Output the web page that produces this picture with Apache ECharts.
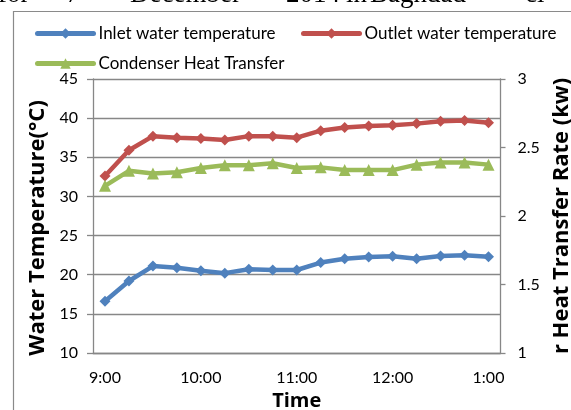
<!DOCTYPE html>
<html>
<head>
<meta charset="utf-8">
<script src="https://cdn.jsdelivr.net/npm/echarts@6/dist/echarts.min.js"></script>
<style>
  html, body { margin: 0; padding: 0; background: #fff; }
  #chart { width: 571px; height: 410px; }
</style>
</head>
<body>
<div id="chart"></div>
<script>
// Sampling times (15-minute steps, 9:00 to 1:00)
const times = ['9:00', '9:15', '9:30', '9:45', '10:00', '10:15', '10:30', '10:45',
  '11:00', '11:15', '11:30', '11:45', '12:00', '12:15', '12:30', '12:45', '1:00'];

// Water temperatures, °C (left axis)
const inletTemp = [16.6, 19.2, 21.1, 20.9, 20.5, 20.2, 20.7, 20.6, 20.6,
  21.55, 22.05, 22.25, 22.35, 22.05, 22.4, 22.5, 22.3];
const outletTemp = [32.6, 35.9, 37.7, 37.5, 37.4, 37.2, 37.7, 37.7, 37.5,
  38.4, 38.8, 39.0, 39.1, 39.3, 39.6, 39.7, 39.4];

// Condenser heat transfer rate, kW (right axis)
const heatTransfer = [2.22, 2.33, 2.31, 2.32, 2.35, 2.37, 2.37, 2.385, 2.35,
  2.355, 2.335, 2.335, 2.335, 2.375, 2.39, 2.39, 2.375];

// Axis ranges
const tempAxis = { min: 10, max: 45, step: 5 };
const rateAxis = { min: 1, max: 3, step: 0.5 };

// Caption words from the text above the figure
const captionWords = [
  ['for', -2], ['7', 66], ['December', 130], ['2014', 286],
  ['in', 346], ['Baghdad', 370], ['ci', 525]
];

const FONT = 'Lato';
const TITLE_FONT = 'Open Sans';
const GRID_GRAY = '#878787';
const BLUE = '#4F81BD', RED = '#C0504D', GREEN = '#9BBB59';

const chart = echarts.init(document.getElementById('chart'), null, { renderer: 'canvas' });

const legendBase = {
  itemWidth: 56,
  itemHeight: 13,
  textStyle: { fontFamily: FONT, fontSize: 17, color: '#000' },
  lineStyle: { width: 5, cap: 'round' },
  padding: 0,
  selectedMode: false
};

const xTitleStyle = { fontFamily: TITLE_FONT, fontSize: 20, fontWeight: 'bold', color: '#000' };
const yTitleStyle = { fontFamily: TITLE_FONT, fontSize: 22, fontWeight: 'bold', color: '#000' };

const option = {
  animation: false,
  backgroundColor: '#fff',
  textStyle: { fontFamily: FONT },
  graphic: [
    {
      type: 'rect',
      shape: { x: 13.5, y: 11.5, width: 700, height: 500 },
      style: { fill: 'none', stroke: '#8a8a8a', lineWidth: 1.2 },
      silent: true
    },
    ...captionWords.map(([w, x]) => ({
      type: 'text',
      left: x,
      top: -19,
      style: {
        text: w,
        font: '27px "Liberation Serif"',
        fill: '#000'
      },
      silent: true
    }))
  ],
  legend: [
    Object.assign({}, legendBase, { data: ['Inlet water temperature'], left: 35, top: 25 }),
    Object.assign({}, legendBase, { data: ['Outlet water temperature'], left: 301, top: 25 }),
    Object.assign({}, legendBase, { data: ['Condenser Heat Transfer'], left: 35, top: 55 })
  ],
  grid: {
    left: 93, right: 70.5, top: 79, bottom: 57,
    containLabel: false,
    outerBoundsMode: 'none'
  },
  xAxis: {
    type: 'category',
    data: times,
    boundaryGap: true,
    axisLine: { lineStyle: { color: GRID_GRAY, width: 1.3 } },
    axisTick: { interval: 3, length: 5, lineStyle: { color: GRID_GRAY, width: 1.3 } },
    axisLabel: { interval: 3, fontFamily: FONT, fontSize: 16, color: '#000', margin: 17 },
    splitLine: { show: false },
    name: 'Time',
    nameLocation: 'middle',
    nameGap: 35,
    nameTextStyle: xTitleStyle
  },
  yAxis: [
    {
      type: 'value',
      min: tempAxis.min,
      max: tempAxis.max,
      interval: tempAxis.step,
      axisLine: { show: true, lineStyle: { color: GRID_GRAY, width: 1.3 } },
      axisTick: { show: true, length: 6, lineStyle: { color: GRID_GRAY, width: 1.3 } },
      axisLabel: { fontFamily: FONT, fontSize: 16, color: '#000', margin: 15 },
      splitLine: { show: true, lineStyle: { color: GRID_GRAY, width: 1.3 } },
      name: 'Water Temperature(°C)',
      nameLocation: 'middle',
      nameGap: 41,
      // title sits a little below the middle of the axis
      nameTextStyle: Object.assign({}, yTitleStyle, { padding: [0, 24, 0, 0] })
    },
    {
      type: 'value',
      position: 'right',
      min: rateAxis.min,
      max: rateAxis.max,
      interval: rateAxis.step,
      axisLine: { show: true, lineStyle: { color: GRID_GRAY, width: 1.3 } },
      axisTick: { show: true, length: 5, lineStyle: { color: GRID_GRAY, width: 1.3 } },
      axisLabel: { fontFamily: FONT, fontSize: 16, color: '#000', margin: 17 },
      splitLine: { show: false },
      name: 'r Heat Transfer Rate (kw)',
      nameLocation: 'middle',
      nameRotate: 90,
      nameGap: 35,
      nameTextStyle: yTitleStyle
    }
  ],
  series: [
    {
      name: 'Inlet water temperature',
      type: 'line',
      yAxisIndex: 0,
      data: inletTemp,
      symbol: 'diamond',
      symbolSize: 11,
      lineStyle: { color: BLUE, width: 4.5 },
      itemStyle: { color: BLUE }
    },
    {
      name: 'Outlet water temperature',
      type: 'line',
      yAxisIndex: 0,
      data: outletTemp,
      symbol: 'diamond',
      symbolSize: 11,
      lineStyle: { color: RED, width: 4.5 },
      itemStyle: { color: RED }
    },
    {
      name: 'Condenser Heat Transfer',
      type: 'line',
      yAxisIndex: 1,
      data: heatTransfer,
      symbol: 'triangle',
      symbolSize: 12,
      lineStyle: { color: GREEN, width: 4.5 },
      itemStyle: { color: GREEN }
    }
  ]
};

chart.setOption(option);
</script>
</body>
</html>
